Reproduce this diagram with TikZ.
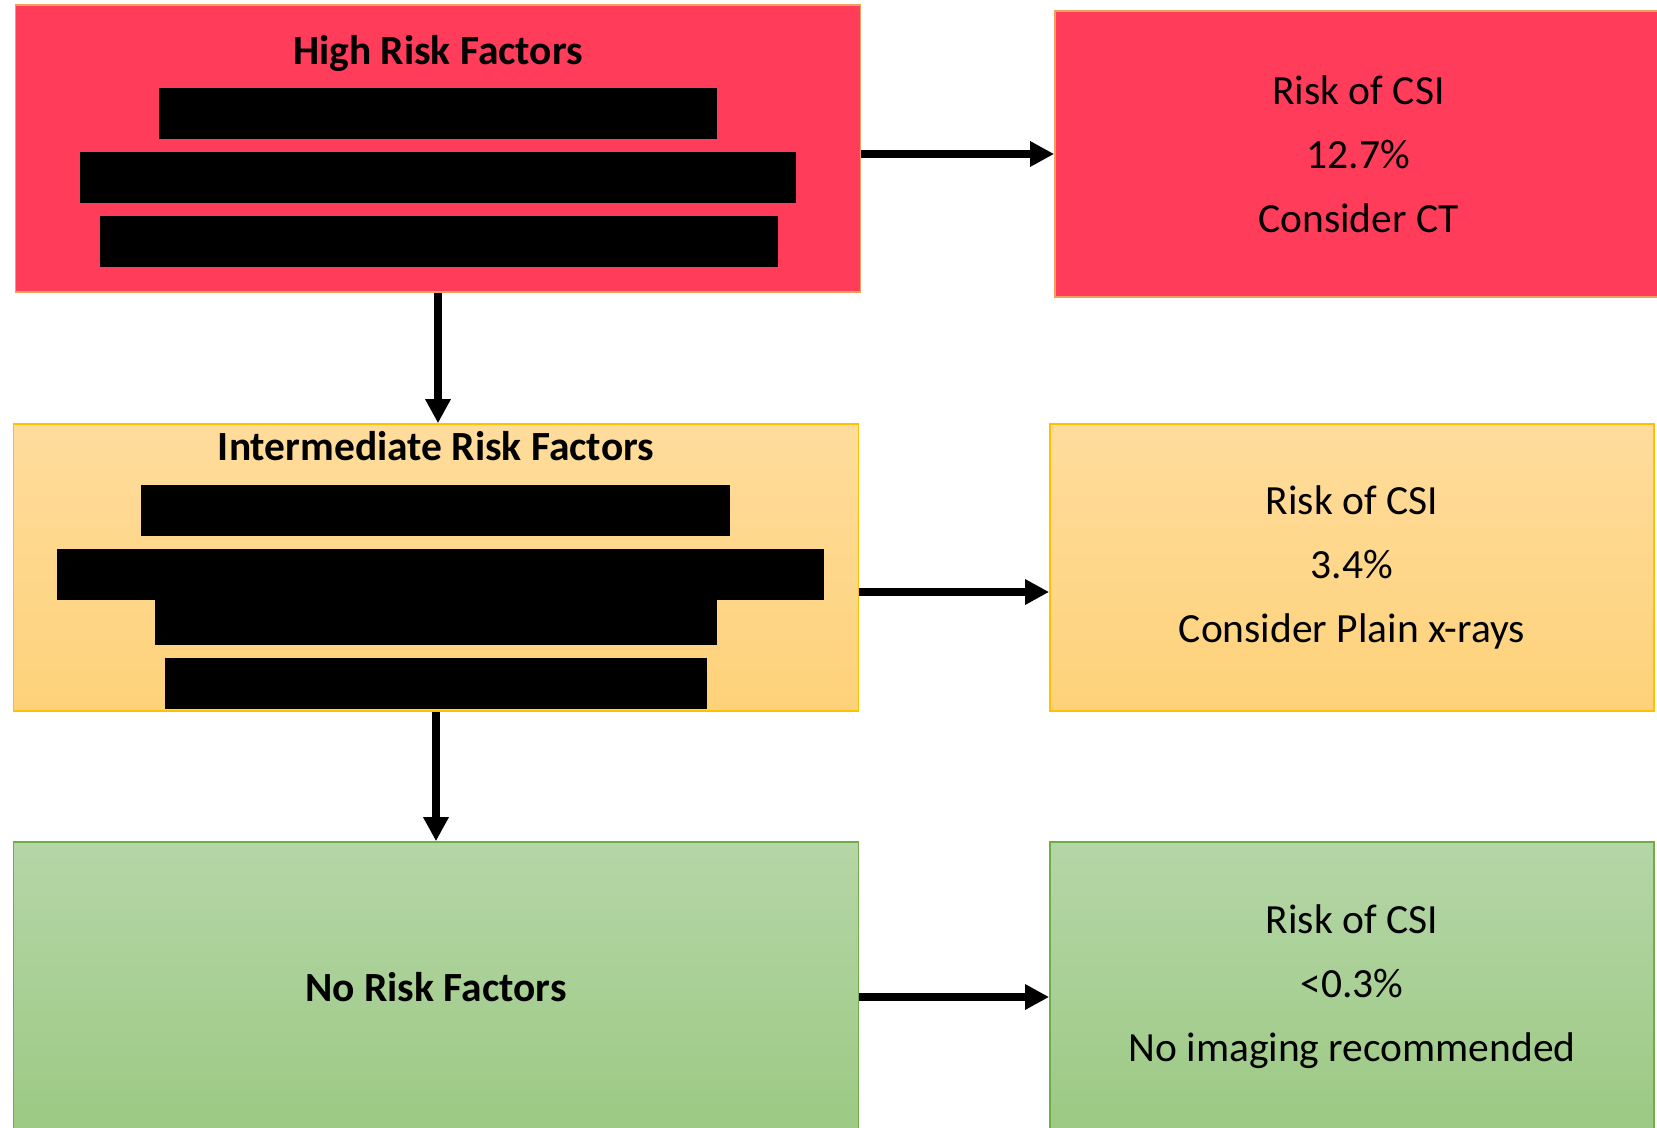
\documentclass[tikz,border=0pt]{standalone}
\usepackage{fontspec}
\setmainfont{Carlito}
\usetikzlibrary{arrows.meta,positioning}
\definecolor{RiskRed}{HTML}{FF3C5A}
\definecolor{RedEdge}{HTML}{F5A05A}
\definecolor{AmberTop}{HTML}{FFDC9C}
\definecolor{AmberBot}{HTML}{FED27A}
\definecolor{AmberEdge}{HTML}{FFC000}
\definecolor{SageTop}{HTML}{B5D6A7}
\definecolor{SageBot}{HTML}{9CC983}
\definecolor{SageEdge}{HTML}{70AD47}

\begin{document}
\begin{tikzpicture}[
  x=0.01cm, y=-0.01cm,
  font=\fontsize{11.8}{18.2}\selectfont,
  base/.style={rectangle,inner sep=0pt,line width=0.4pt,align=center},
  redbox/.style={base,draw=RedEdge,fill=RiskRed},
  amberbox/.style={base,draw=AmberEdge,top color=AmberTop,bottom color=AmberBot},
  sagebox/.style={base,draw=SageEdge,top color=SageTop,bottom color=SageBot},
  factors/.style={minimum width=8.44cm,minimum height=2.87cm},
  outcome/.style={minimum width=6.04cm,minimum height=2.87cm},
  title/.style={anchor=base,font=\fontsize{11.8}{14}\selectfont\bfseries},
  redact/.style={fill=black},
  arrow/.style={-{Triangle[length=2.4mm,width=2.4mm]},line width=2pt}
]
\useasboundingbox (0,0) rectangle (1657,1128);
% factor boxes
\node[redbox,factors] (high) at (438,148.5) {};
\node[amberbox,factors] (inter) at (436,567.5) {};
\node[sagebox,factors,minimum height=2.9cm] (none) at (436,987) {\bfseries No Risk Factors};
% outcome boxes
\node[redbox,outcome,minimum width=6.07cm,minimum height=2.86cm] (riskhigh) at (1358.5,154) {Risk of CSI\\12.7\%\\Consider CT};
\node[amberbox,outcome] (riskmid) at (1352,567.5) {Risk of CSI\\3.4\%\\Consider Plain x-rays};
\node[sagebox,outcome,minimum height=2.9cm] (risklow) at (1352,987) {Risk of CSI\\<0.3\%\\No imaging recommended};
% titles
\node[title] (hightitle) at (438,65) {High Risk Factors};
\node[title] (intertitle) at (436,461) {Intermediate Risk Factors};
% redacted lines
\fill[redact] (159,88) rectangle (717,139);
\fill[redact] (80,152) rectangle (796,203);
\fill[redact] (100,216) rectangle (778,267);
\fill[redact] (141,485) rectangle (730,536);
\fill[redact] (57,549) rectangle (824,600);
\fill[redact] (155,600) rectangle (717,645);
\fill[redact] (165,658) rectangle (707,709);
% connectors
\draw[arrow] (high.south) -- (high.south |- inter.north);
\draw[arrow] (inter.south) -- (inter.south |- none.north);
\draw[arrow] (high.east |- riskhigh.west) -- (riskhigh.west);
\draw[arrow] ([yshift=-0.245cm]inter.east) -- ([yshift=-0.245cm]riskmid.west);
\draw[arrow] ([yshift=-0.1cm]none.east) -- ([yshift=-0.1cm]risklow.west);
\end{tikzpicture}
\end{document}
